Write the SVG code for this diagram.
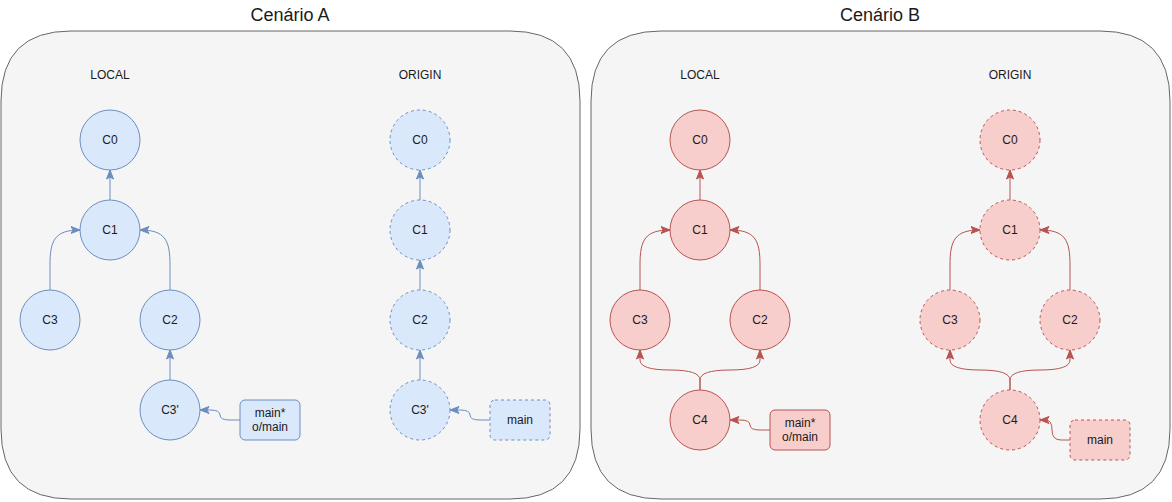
<svg xmlns="http://www.w3.org/2000/svg" width="1172" height="502" viewBox="0 0 1172 502">
  <style>
    text { font-family: "Liberation Sans", Arial, Helvetica, sans-serif; fill: #1a1a1a; text-anchor: middle; }
    .title { font-size: 18px; }
    .label { font-size: 12px; }
    .panel { fill: #f5f5f5; stroke: #666666; stroke-width: 1; }
    .blue { fill: #dae8fc; stroke: #6c8ebf; stroke-width: 1; }
    .red { fill: #f8cecc; stroke: #b85450; stroke-width: 1; }
    .dashed { stroke-dasharray: 3 3; }
    .edge { fill: none; stroke-width: 1; }
    .edge.b { stroke: #6c8ebf; marker-end: url(#arrowBlue); }
    .edge.r { stroke: #b85450; marker-end: url(#arrowRed); }
  </style>
  <defs>
    <marker id="arrowBlue" viewBox="0 0 10 8" refX="9.5" refY="4" markerWidth="10" markerHeight="8" markerUnits="userSpaceOnUse" orient="auto">
      <path d="M0.5,0.5 L9.5,4 L0.5,7.5 L2.5,4 Z" fill="#6c8ebf" stroke="#6c8ebf" stroke-width="1" stroke-linejoin="miter"/>
    </marker>
    <marker id="arrowRed" viewBox="0 0 10 8" refX="9.5" refY="4" markerWidth="10" markerHeight="8" markerUnits="userSpaceOnUse" orient="auto">
      <path d="M0.5,0.5 L9.5,4 L0.5,7.5 L2.5,4 Z" fill="#b85450" stroke="#b85450" stroke-width="1" stroke-linejoin="miter"/>
    </marker>
  </defs>

  <!-- Scenario panels -->
  <g id="panelA">
    <path class="panel" d="M71,31 L510,31 Q580,31 580,101 L580,429 Q580,499 510,499 L71,499 Q1,499 1,429 L1,101 Q1,31 71,31 Z"/>
    <text class="title" x="290" y="21">Cenário A</text>
    <text class="label" x="110" y="79">LOCAL</text>
    <text class="label" x="420" y="79">ORIGIN</text>
  </g>
  <g id="panelB">
    <path class="panel" d="M661,31 L1100,31 Q1170,31 1170,101 L1170,429 Q1170,499 1100,499 L661,499 Q591,499 591,429 L591,101 Q591,31 661,31 Z"/>
    <text class="title" x="880" y="21">Cenário B</text>
    <text class="label" x="700" y="79">LOCAL</text>
    <text class="label" x="1010" y="79">ORIGIN</text>
  </g>

  <!-- Connectors -->
  <g id="connectors">
    <!-- Scenario A, local -->
    <path class="edge b" d="M110,200 L110,170"/>
    <path class="edge b" d="M50,290 L50,265 C50,240 55,230 80,230"/>
    <path class="edge b" d="M170,290 L170,265 C170,240 165,230 140,230"/>
    <path class="edge b" d="M170,380 L170,350"/>
    <path class="edge b" d="M240,420 L230,420 Q220,420 220,415 Q220,410 210,410 L200,410"/>
    <!-- Scenario A, origin -->
    <path class="edge b" d="M420,200 L420,170"/>
    <path class="edge b" d="M420,290 L420,260"/>
    <path class="edge b" d="M420,380 L420,350"/>
    <path class="edge b" d="M490,420 L480,420 Q470,420 470,415 Q470,410 460,410 L450,410"/>
    <!-- Scenario B, local -->
    <path class="edge r" d="M700,200 L700,170"/>
    <path class="edge r" d="M640,290 L640,265 C640,240 645,230 670,230"/>
    <path class="edge r" d="M760,290 L760,265 C760,240 755,230 730,230"/>
    <path class="edge r" d="M700,390 L700,380 Q700,370 670,370 Q640,370 640,360 L640,350"/>
    <path class="edge r" d="M700,390 L700,380 Q700,370 730,370 Q760,370 760,360 L760,350"/>
    <path class="edge r" d="M770,430 L760,430 Q750,430 750,425 Q750,420 740,420 L730,420"/>
    <!-- Scenario B, origin -->
    <path class="edge r" d="M1010,200 L1010,170"/>
    <path class="edge r" d="M950,290 L950,265 C950,240 955,230 980,230"/>
    <path class="edge r" d="M1070,290 L1070,265 C1070,240 1065,230 1040,230"/>
    <path class="edge r" d="M1010,390 L1010,380 Q1010,370 980,370 Q950,370 950,360 L950,350"/>
    <path class="edge r" d="M1010,390 L1010,380 Q1010,370 1040,370 Q1070,370 1070,360 L1070,350"/>
    <path class="edge r" d="M1070,440 L1061,440 Q1052,440 1052,430 Q1052,420 1046,420 L1040,420"/>
  </g>

  <!-- Scenario A, local commits -->
  <g id="a-local-c0"><circle class="blue" cx="110" cy="140" r="30"/><text class="label" x="110" y="144">C0</text></g>
  <g id="a-local-c1"><circle class="blue" cx="110" cy="230" r="30"/><text class="label" x="110" y="234">C1</text></g>
  <g id="a-local-c3"><circle class="blue" cx="50" cy="320" r="30"/><text class="label" x="50" y="324">C3</text></g>
  <g id="a-local-c2"><circle class="blue" cx="170" cy="320" r="30"/><text class="label" x="170" y="324">C2</text></g>
  <g id="a-local-c3p"><circle class="blue" cx="170" cy="410" r="30"/><text class="label" x="170" y="414">C3'</text></g>
  <g id="a-local-ref"><rect class="blue" x="240" y="400" width="60" height="40" rx="5"/><text class="label" x="270" y="416.5">main*</text><text class="label" x="270" y="430.5">o/main</text></g>

  <!-- Scenario A, origin commits -->
  <g id="a-origin-c0"><circle class="blue dashed" cx="420" cy="140" r="30"/><text class="label" x="420" y="144">C0</text></g>
  <g id="a-origin-c1"><circle class="blue dashed" cx="420" cy="230" r="30"/><text class="label" x="420" y="234">C1</text></g>
  <g id="a-origin-c2"><circle class="blue dashed" cx="420" cy="320" r="30"/><text class="label" x="420" y="324">C2</text></g>
  <g id="a-origin-c3p"><circle class="blue dashed" cx="420" cy="410" r="30"/><text class="label" x="420" y="414">C3'</text></g>
  <g id="a-origin-ref"><rect class="blue dashed" x="490" y="400" width="60" height="40" rx="5"/><text class="label" x="520" y="424">main</text></g>

  <!-- Scenario B, local commits -->
  <g id="b-local-c0"><circle class="red" cx="700" cy="140" r="30"/><text class="label" x="700" y="144">C0</text></g>
  <g id="b-local-c1"><circle class="red" cx="700" cy="230" r="30"/><text class="label" x="700" y="234">C1</text></g>
  <g id="b-local-c3"><circle class="red" cx="640" cy="320" r="30"/><text class="label" x="640" y="324">C3</text></g>
  <g id="b-local-c2"><circle class="red" cx="760" cy="320" r="30"/><text class="label" x="760" y="324">C2</text></g>
  <g id="b-local-c4"><circle class="red" cx="700" cy="420" r="30"/><text class="label" x="700" y="424">C4</text></g>
  <g id="b-local-ref"><rect class="red" x="770" y="410" width="60" height="40" rx="5"/><text class="label" x="800" y="426.5">main*</text><text class="label" x="800" y="440.5">o/main</text></g>

  <!-- Scenario B, origin commits -->
  <g id="b-origin-c0"><circle class="red dashed" cx="1010" cy="140" r="30"/><text class="label" x="1010" y="144">C0</text></g>
  <g id="b-origin-c1"><circle class="red dashed" cx="1010" cy="230" r="30"/><text class="label" x="1010" y="234">C1</text></g>
  <g id="b-origin-c3"><circle class="red dashed" cx="950" cy="320" r="30"/><text class="label" x="950" y="324">C3</text></g>
  <g id="b-origin-c2"><circle class="red dashed" cx="1070" cy="320" r="30"/><text class="label" x="1070" y="324">C2</text></g>
  <g id="b-origin-c4"><circle class="red dashed" cx="1010" cy="420" r="30"/><text class="label" x="1010" y="424">C4</text></g>
  <g id="b-origin-ref"><rect class="red dashed" x="1070" y="420" width="60" height="40" rx="5"/><text class="label" x="1100" y="444">main</text></g>
</svg>
